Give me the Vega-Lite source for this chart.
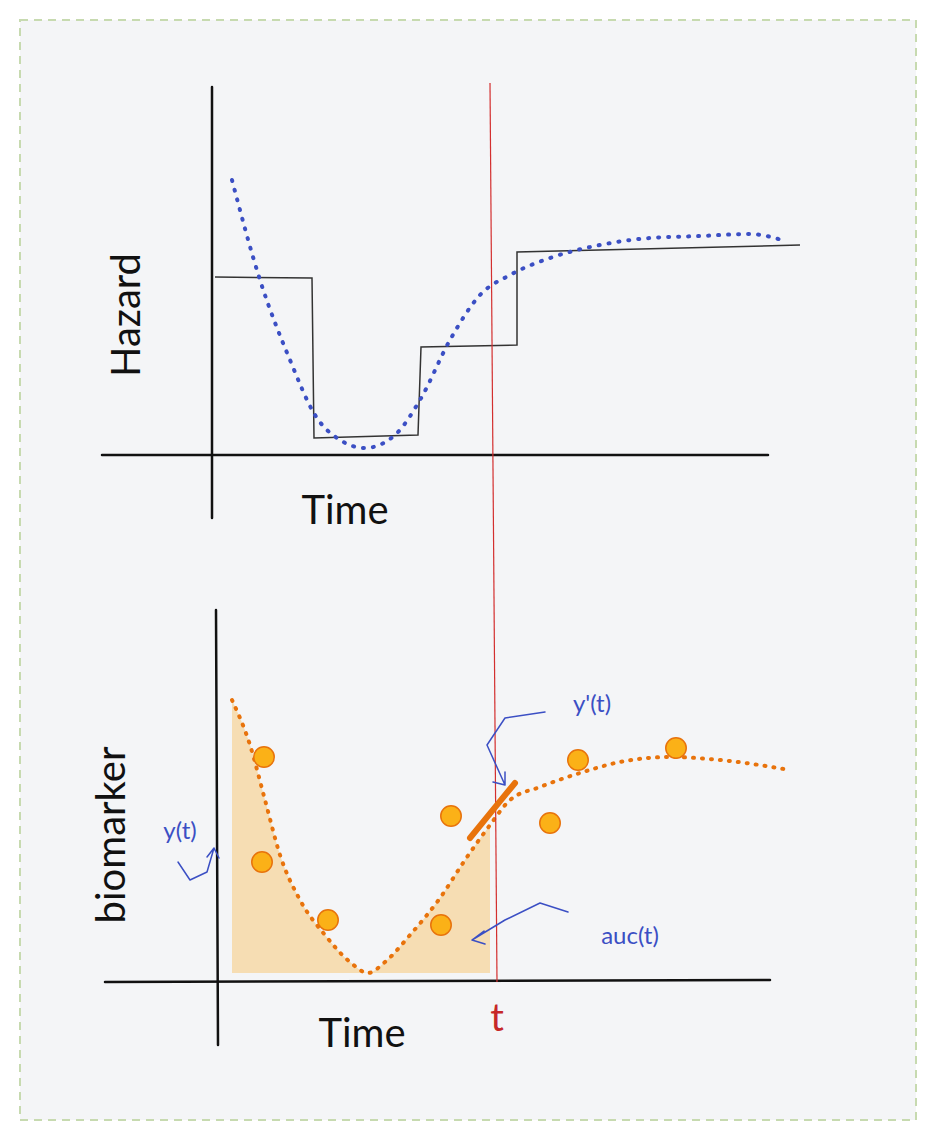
{
  "$schema": "https://vega.github.io/schema/vega-lite/v6.json",
  "width": 936, "height": 1140, "padding": 0,
  "autosize": {"type": "fit", "contains": "padding"},
  "background": "white",
  "config": {"view": {"stroke": null}},
  "encoding": {
    "x": {"field": "x", "type": "quantitative", "scale": {"domain": [0, 936], "nice": false, "zero": false}, "axis": null},
    "y": {"field": "y", "type": "quantitative", "scale": {"domain": [0, 1140], "reverse": true, "nice": false, "zero": false}, "axis": null}
  },
  "layer": [
    {"data": {"values": [{"x": 20, "y": 20, "x2": 916, "y2": 1120}]},
     "mark": {"type": "rect", "fill": "#f4f5f7", "stroke": "#c7dab0", "strokeWidth": 2, "strokeDash": [8, 6]},
     "encoding": {"x2": {"field": "x2"}, "y2": {"field": "y2"}}},
    {"data": {"values": [
      {"x": 232, "y": 700}, {"x": 250, "y": 745}, {"x": 265, "y": 800}, {"x": 280, "y": 855}, {"x": 300, "y": 900},
      {"x": 325, "y": 935}, {"x": 350, "y": 962}, {"x": 368, "y": 973}, {"x": 385, "y": 962}, {"x": 410, "y": 935},
      {"x": 440, "y": 898}, {"x": 465, "y": 860}, {"x": 490, "y": 825}]},
     "mark": {"type": "area", "interpolate": "monotone", "fill": "#f9b233", "opacity": 0.35},
     "encoding": {"y2": {"datum": 973}}},
    {"data": {"values": [
      {"x": 212, "y": 87, "x2": 212, "y2": 518}, {"x": 102, "y": 455, "x2": 768, "y2": 455},
      {"x": 216, "y": 610, "x2": 218, "y2": 1045}, {"x": 105, "y": 982, "x2": 770, "y2": 980}]},
     "mark": {"type": "rule", "stroke": "#111", "strokeWidth": 2.5, "strokeCap": "round"},
     "encoding": {"x2": {"field": "x2"}, "y2": {"field": "y2"}}},
    {"data": {"values": [
      {"i": 0, "x": 215, "y": 277}, {"i": 1, "x": 312, "y": 278}, {"i": 2, "x": 314, "y": 438}, {"i": 3, "x": 418, "y": 435},
      {"i": 4, "x": 421, "y": 347}, {"i": 5, "x": 517, "y": 345}, {"i": 6, "x": 517, "y": 252}, {"i": 7, "x": 800, "y": 245}]},
     "mark": {"type": "line", "stroke": "#333", "strokeWidth": 1.5},
     "encoding": {"order": {"field": "i"}}},
    {"data": {"values": [
      {"x": 232, "y": 180}, {"x": 260, "y": 280}, {"x": 290, "y": 360}, {"x": 315, "y": 415}, {"x": 340, "y": 440},
      {"x": 365, "y": 448}, {"x": 395, "y": 435}, {"x": 420, "y": 400}, {"x": 450, "y": 340}, {"x": 480, "y": 295},
      {"x": 510, "y": 275}, {"x": 550, "y": 258}, {"x": 600, "y": 245}, {"x": 650, "y": 238}, {"x": 700, "y": 236},
      {"x": 750, "y": 234}, {"x": 785, "y": 241}]},
     "mark": {"type": "line", "interpolate": "monotone", "stroke": "#3b4fc4", "strokeWidth": 4, "strokeDash": [1, 9], "strokeCap": "round"}},
    {"data": {"values": [
      {"x": 232, "y": 700}, {"x": 250, "y": 745}, {"x": 265, "y": 800}, {"x": 280, "y": 855}, {"x": 300, "y": 900},
      {"x": 325, "y": 935}, {"x": 350, "y": 962}, {"x": 368, "y": 973}, {"x": 385, "y": 962}, {"x": 410, "y": 935},
      {"x": 440, "y": 898}, {"x": 465, "y": 860}, {"x": 490, "y": 825}, {"x": 510, "y": 800}, {"x": 540, "y": 787},
      {"x": 580, "y": 773}, {"x": 620, "y": 762}, {"x": 670, "y": 757}, {"x": 720, "y": 760}, {"x": 790, "y": 770}]},
     "mark": {"type": "line", "interpolate": "monotone", "stroke": "#e8730c", "strokeWidth": 4, "strokeDash": [1, 8], "strokeCap": "round"}},
    {"data": {"values": [{"x": 490, "y": 83, "x2": 497, "y2": 982}]},
     "mark": {"type": "rule", "stroke": "#d32f2f", "strokeWidth": 1.2},
     "encoding": {"x2": {"field": "x2"}, "y2": {"field": "y2"}}},
    {"data": {"values": [{"x": 470, "y": 838, "x2": 515, "y2": 783}]},
     "mark": {"type": "rule", "stroke": "#e8730c", "strokeWidth": 6, "strokeCap": "round"},
     "encoding": {"x2": {"field": "x2"}, "y2": {"field": "y2"}}},
    {"data": {"values": [
      {"x": 264, "y": 757}, {"x": 262, "y": 862}, {"x": 328, "y": 920}, {"x": 441, "y": 925},
      {"x": 451, "y": 816}, {"x": 550, "y": 823}, {"x": 578, "y": 760}, {"x": 676, "y": 748}]},
     "mark": {"type": "point", "filled": true, "fill": "#fbb117", "stroke": "#e8730c", "strokeWidth": 1.5, "size": 420, "opacity": 1}},
    {"data": {"values": [
      {"g": "a", "i": 0, "x": 545, "y": 712}, {"g": "a", "i": 1, "x": 505, "y": 718}, {"g": "a", "i": 2, "x": 487, "y": 745}, {"g": "a", "i": 3, "x": 505, "y": 785},
      {"g": "a", "i": 4, "x": 493, "y": 782}, {"g": "a", "i": 5, "x": 505, "y": 785}, {"g": "a", "i": 6, "x": 505, "y": 772},
      {"g": "b", "i": 0, "x": 178, "y": 862}, {"g": "b", "i": 1, "x": 190, "y": 880}, {"g": "b", "i": 2, "x": 207, "y": 872}, {"g": "b", "i": 3, "x": 214, "y": 848},
      {"g": "b", "i": 4, "x": 207, "y": 857}, {"g": "b", "i": 5, "x": 214, "y": 848}, {"g": "b", "i": 6, "x": 219, "y": 858},
      {"g": "c", "i": 0, "x": 568, "y": 912}, {"g": "c", "i": 1, "x": 540, "y": 903}, {"g": "c", "i": 2, "x": 505, "y": 920}, {"g": "c", "i": 3, "x": 472, "y": 940},
      {"g": "c", "i": 4, "x": 484, "y": 931}, {"g": "c", "i": 5, "x": 472, "y": 940}, {"g": "c", "i": 6, "x": 485, "y": 944}]},
     "mark": {"type": "line", "interpolate": "linear", "stroke": "#3b4fc4", "strokeWidth": 1.5, "strokeCap": "round", "strokeJoin": "round"},
     "encoding": {"detail": {"field": "g"}, "order": {"field": "i"}}},
    {"data": {"values": [
      {"x": 345, "y": 512, "t": "Time"}, {"x": 362, "y": 1035, "t": "Time"}]},
     "mark": {"type": "text", "font": "Lato", "fontSize": 40, "fill": "#111"},
     "encoding": {"text": {"field": "t"}}},
    {"data": {"values": [
      {"x": 128, "y": 315, "t": "Hazard"}, {"x": 113, "y": 835, "t": "biomarker"}]},
     "mark": {"type": "text", "font": "Lato", "fontSize": 40, "angle": 270, "fill": "#111"},
     "encoding": {"text": {"field": "t"}}},
    {"data": {"values": [
      {"x": 180, "y": 832, "t": "y(t)"}, {"x": 592, "y": 705, "t": "y'(t)"}, {"x": 630, "y": 937, "t": "auc(t)"}]},
     "mark": {"type": "text", "font": "Lato", "fontSize": 24, "fill": "#3b4fc4"},
     "encoding": {"text": {"field": "t"}}},
    {"data": {"values": [{"x": 497, "y": 1020, "t": "t"}]},
     "mark": {"type": "text", "font": "Lato", "fontSize": 38, "fill": "#c62828"},
     "encoding": {"text": {"field": "t"}}}
  ]
}
